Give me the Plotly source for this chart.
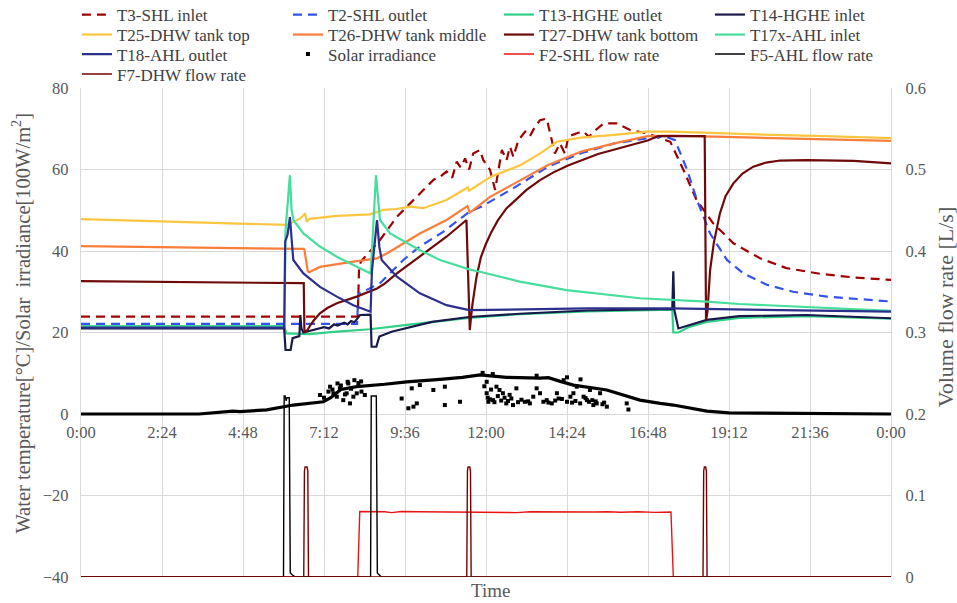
import plotly.graph_objects as go

# ---------------- data (time in hours) ----------------
t3_t = [0, 8.2, 8.24, 8.3, 8.86, 9.36, 9.85, 10.24, 10.45, 10.64, 10.83, 11.0, 11.13, 11.25, 11.38, 11.5, 11.62,
        11.82, 11.92, 12.12, 12.27, 12.37, 12.47, 12.61, 12.71, 12.81, 12.96, 13.16, 13.3, 13.45, 13.6, 13.8,
        13.94, 14.04, 14.19, 14.34, 14.44, 14.69, 14.89, 15.05, 15.19, 15.49, 15.88, 16.27, 16.76, 17.35,
        17.46, 17.85, 18.24, 18.73, 19.33, 20.12, 20.9, 21.9, 22.9, 24]
t3_v = [23.9, 23.9, 36.1, 37.5, 42.7, 48.4, 52.5, 55.8, 57.5, 58.2, 59.5, 58.0, 61.9, 60.5, 62.7, 60.0, 63.9,
        64.8, 62.3, 59.9, 55.0, 59.9, 64.8, 62.3, 65.6, 63.1, 67.2, 69.3, 68.1, 70.5, 72.1, 72.5,
        67.2, 63.9, 66.4, 63.9, 68.1, 68.9, 69.3, 68.0, 69.3, 71.3, 71.3, 69.7, 68.9, 67.2,
        66.8, 59.9, 52.5, 46.8, 41.9, 38.2, 35.8, 34.4, 33.5, 32.9]

t2_t = [0, 8.18, 8.22, 8.3, 8.86, 9.55, 10.04, 10.73, 11.5, 11.87, 12.85, 13.84, 14.82, 15.8, 16.79, 17.3,
        17.6, 17.96, 18.25, 18.64, 19.14, 19.63, 20.32, 21.1, 22.1, 23.3, 24]
t2_v = [22.1, 22.1, 29.6, 29.8, 32.1, 37.8, 41.1, 44.7, 49.6, 50.9, 55.6, 60.7, 64.0, 66.4, 67.7, 68.1,
        67.2, 59.9, 52.5, 44.3, 37.8, 34.5, 31.7, 30.0, 28.8, 28.1, 27.6]

t13_t = [0, 6.02, 6.08, 6.78, 7.58, 8.56, 9.6, 10.4, 11.5, 13, 15, 17.52, 17.55, 17.7, 18.0, 18.54, 19.5, 21.5, 24]
t13_v = [21.6, 21.6, 19.8, 19.6, 20.2, 20.8, 21.8, 22.6, 23.6, 24.5, 25.2, 25.6, 20.0, 20.0, 21.3, 22.6, 23.6, 24.0, 23.4]

t14_t = [0, 6.02, 6.06, 6.21, 6.27, 6.47, 6.5, 6.53, 6.59, 6.88, 7.0, 7.2, 7.35, 7.5, 7.6, 7.8, 7.9, 8.0,
         8.1, 8.2, 8.27, 8.58, 8.61, 8.75, 8.84, 9.2, 9.8, 10.4, 11.5, 13, 15, 17.52, 17.55, 17.58, 17.7,
         18.0, 18.54, 19.5, 21.5, 24]
t14_v = [21.0, 21.0, 15.7, 15.7, 18.6, 19.1, 24.3, 21.0, 20.0, 20.6, 21.0, 21.3, 21.0, 22.0, 21.7, 22.4, 22.0, 22.8,
         22.5, 23.5, 24.3, 24.4, 16.5, 16.5, 19.0, 20.2, 21.4, 22.6, 23.8, 24.6, 25.4, 25.8, 35.0, 25.5, 21.0,
         21.8, 23.1, 24.0, 24.3, 23.5]

t25_t = [0, 6.1, 6.5, 6.64, 6.69, 6.78, 7.58, 8.56, 8.96, 9.34, 9.75, 10.14, 10.83, 11.42, 11.46, 11.5,
         12.14, 13.03, 13.62, 14.1, 14.8, 15.8, 16.79, 17.5, 18.5, 20, 22, 24]
t25_v = [47.8, 46.4, 48.0, 49.2, 47.2, 47.9, 48.6, 49.0, 50.1, 50.3, 50.9, 50.5, 52.5, 55.4, 55.6, 54.8,
         58.2, 61.1, 64.0, 66.8, 67.8, 68.5, 69.3, 69.3, 69.0, 68.6, 68.2, 67.7]

t26_t = [0, 6.6, 6.62, 6.72, 6.76, 7.08, 8.07, 8.77, 9.06, 10.04, 10.83, 11.45, 11.52, 12.12, 12.85, 13.84,
         14.82, 15.8, 16.79, 17.5, 20, 24]
t26_v = [41.2, 40.5, 40.3, 35.0, 34.8, 36.1, 37.4, 38.2, 39.4, 44.3, 47.6, 51.0, 49.4, 53.3, 56.6, 61.1,
         64.4, 66.4, 68.2, 68.3, 67.8, 67.0]

t27_t = [0, 6.6, 6.62, 6.7, 6.78, 6.9, 7.08, 7.3, 7.58, 8.17, 8.77, 9.0, 9.36, 10.04, 10.83, 11.42, 11.52,
         11.56, 11.6, 11.72, 11.85, 12.0, 12.15, 12.35, 12.61, 12.85, 13.2, 13.6, 14.0, 14.43, 15.32, 16.3,
         16.79, 17.1, 18.48, 18.52, 18.56, 18.6, 18.64, 18.75, 18.93, 19.1, 19.33, 19.6, 19.92, 20.3,
         20.71, 21.5, 22.9, 24]
t27_v = [32.6, 32.1, 20.0, 20.5, 21.6, 23.0, 24.7, 26.0, 27.2, 28.8, 30.8, 32.0, 34.5, 38.6, 43.5, 47.6, 20.6,
         24.0, 27.0, 33.7, 38.5, 41.8, 44.5, 47.5, 50.5, 52.3, 55.0, 57.4, 59.3, 61.0, 63.8, 66.0,
         67.1, 68.2, 68.2, 23.0, 25.0, 30.0, 35.3, 42.0, 49.2, 53.5, 56.6, 59.0, 60.7, 61.7,
         62.2, 62.3, 62.1, 61.5]

t17_t = [0, 6.03, 6.06, 6.12, 6.19, 6.24, 6.3, 6.59, 7.08, 7.58, 8.17, 8.58, 8.62, 8.74, 8.86, 9.16, 10.04,
         10.64, 11.5, 11.82, 13.0, 14.39, 16.56, 18.54, 19.5, 22, 24]
t17_v = [21.5, 21.5, 45.0, 52.0, 58.6, 50.0, 47.5, 44.3, 41.1, 38.6, 36.1, 34.5, 40.0, 58.6, 47.6, 44.3, 40.2,
         37.8, 35.5, 34.9, 32.5, 30.4, 28.4, 27.6, 27.0, 26.0, 25.3]

t18_t = [0, 6.02, 6.05, 6.12, 6.19, 6.24, 6.29, 6.59, 7.08, 7.58, 8.07, 8.58, 8.62, 8.77, 8.84, 8.91, 9.36,
         10.04, 10.83, 11.5, 13, 15, 17.5, 20, 22, 24]
t18_v = [21.2, 21.2, 42.3, 44.0, 48.3, 42.0, 37.8, 34.5, 31.2, 28.8, 26.7, 25.1, 35.0, 47.6, 41.0, 37.8, 33.7,
         29.6, 26.7, 25.5, 25.7, 25.9, 25.9, 25.6, 25.4, 25.1]

# solar irradiance [100 W/m2]: dense trend band + scattered readings
sol_trend_t = [0, 3.5, 4.5, 4.71, 5.5, 6.29, 7.18, 7.4, 7.7, 8.17, 9.0, 9.65, 10.64, 11.3, 11.82, 12.61,
               13.6, 13.85, 14.2, 14.59, 15.58, 16.56, 17.16, 17.55, 18.54, 19.2, 24]
sol_trend_v = [0, 0, 0.7, 0.6, 1.0, 2.2, 3.0, 4.0, 6.0, 6.7, 7.3, 7.9, 8.5, 9.0, 9.6, 9.0,
               8.8, 8.9, 8.0, 7.1, 5.9, 3.4, 2.6, 2.2, 0.7, 0.3, 0]
sol_pts_t = [7.08, 7.33, 7.38, 7.48, 7.58, 7.67, 7.77, 7.87, 7.92, 7.97, 8.07, 8.17, 8.31, 8.41, 7.6, 7.9,
             8.1, 8.3, 7.2, 7.45, 7.7, 7.82, 8.0, 8.22, 9.5, 9.7, 9.85, 9.95, 9.8, 10.04, 10.44, 10.78,
             10.78, 11.23, 11.9, 12.02, 12.02, 12.07, 12.2, 12.21, 12.31, 12.4, 12.5, 12.6, 12.7, 12.8,
             12.9, 13.15, 13.3, 13.4, 13.5, 13.5, 13.6, 13.8, 13.95, 14.1, 14.15, 14.3, 14.4, 14.4, 14.5,
             14.59, 14.69, 14.79, 14.8, 14.89, 14.99, 15.08, 15.18, 15.28, 15.38, 15.58, 16.17, 16.22,
             12.05, 12.12, 12.25, 12.35, 12.45, 12.55, 12.65, 12.75, 12.95, 13.05, 13.25, 13.7, 13.85,
             14.05, 14.25, 14.55, 14.65, 14.95, 15.05, 15.15, 15.25, 15.45, 15.5, 11.95, 12.15]
sol_pts_v = [4.66, 5.5, 6.7, 5.07, 4.25, 6.3, 3.4, 5.07, 7.5, 2.6, 4.25, 5.07, 5.5, 4.66, 7.5, 7.9,
             8.3, 8.0, 4.0, 6.0, 7.0, 4.8, 6.2, 7.6, 3.8, 1.4, 1.8, 2.6, 6.3, 7.1, 5.9, 6.7,
             2.2, 3.0, 10.1, 7.9, 5.1, 3.0, 9.8, 3.4, 6.7, 5.9, 5.1, 2.6, 4.7, 2.2,
             6.3, 3.0, 2.6, 4.25, 6.3, 9.4, 5.1, 3.4, 2.6, 5.1, 3.8, 8.3, 3.0, 9.0, 4.25,
             5.1, 6.7, 2.6, 8.5, 4.25, 3.4, 5.9, 2.2, 2.6, 5.1, 1.8, 2.6, 1.1,
             4.0, 3.6, 2.9, 4.4, 3.3, 4.0, 3.2, 3.8, 2.9, 3.5, 3.1, 3.0, 2.8,
             3.3, 3.7, 2.8, 3.2, 3.9, 3.0, 3.4, 3.1, 2.4, 2.8, 6.8, 6.0]

# flow rates [L/s]
f2_t = [0, 8.2, 8.26, 8.3, 8.6, 9.0, 9.2, 9.5, 10.0, 10.5, 11.0, 11.5, 12.0, 12.5, 12.9, 13.3, 13.8,
        14.3, 14.8, 15.2, 15.6, 16.0, 16.5, 17.0, 17.48, 17.55, 24]
f2_v = [0, 0, 0.0803, 0.0803, 0.0795, 0.0800, 0.0790, 0.0803, 0.0800, 0.0798, 0.0800, 0.0796, 0.0800,
        0.0797, 0.0790, 0.0800, 0.0797, 0.0801, 0.0792, 0.0797, 0.0800, 0.0794, 0.0800, 0.0793, 0.0798, 0, 0]
f5_t = [0, 6.0, 6.02, 6.05, 6.08, 6.1, 6.17, 6.2, 6.25, 6.35, 8.58, 8.6, 8.63, 8.75, 8.78, 8.82, 8.9, 24]
f5_v = [0, 0, 0.222, 0.222, 0.216, 0.220, 0.220, 0.005, 0.003, 0, 0, 0.222, 0.222, 0.222, 0.005, 0.003, 0, 0]
f7_t = [0, 6.6, 6.62, 6.64, 6.7, 6.72, 6.74, 11.43, 11.45, 11.47, 11.52, 11.54, 11.56,
        18.43, 18.45, 18.47, 18.51, 18.53, 18.55, 24]
f7_v = [0, 0, 0.13, 0.135, 0.135, 0.13, 0, 0, 0.13, 0.135, 0.135, 0.13, 0,
        0, 0.13, 0.135, 0.135, 0.13, 0, 0]

tick_vals = [0, 2.4, 4.8, 7.2, 9.6, 12, 14.4, 16.8, 19.2, 21.6, 24]
tick_text = ["0:00", "2:24", "4:48", "7:12", "9:36", "12:00", "14:24", "16:48", "19:12", "21:36", "0:00"]

# ---------------- figure ----------------
FONT = "Liberation Serif, Times New Roman, serif"
GRAY = "#595959"
GRID = "#d9d9d9"

fig = go.Figure()

# dense irradiance band (part of the Solar irradiance series)
fig.add_trace(go.Scatter(x=sol_trend_t, y=sol_trend_v, mode="lines", line=dict(color="black", width=3.2),
                         showlegend=False, hoverinfo="skip"))

def temp(x, y, name, color, leg, dash="solid", width=2.2):
    fig.add_trace(go.Scatter(x=x, y=y, name=name, mode="lines", legend=leg,
                             line=dict(color=color, width=width, dash=dash)))

def flow(x, y, name, color, leg):
    fig.add_trace(go.Scatter(x=x, y=y, name=name, mode="lines", yaxis="y2", legend=leg,
                             line=dict(color=color, width=1.4)))

temp(t3_t, t3_v, "T3-SHL inlet", "#a00000", "legend", dash="9px,6px")
temp(t2_t, t2_v, "T2-SHL outlet", "#3352f0", "legend", dash="9px,6px")
temp(t13_t, t13_v, "T13-HGHE outlet", "#2fd088", "legend")
temp(t14_t, t14_v, "T14-HGHE inlet", "#1a1a4a", "legend")
temp(t25_t, t25_v, "T25-DHW tank top", "#fbc63f", "legend2")
temp(t26_t, t26_v, "T26-DHW tank middle", "#fa7d3a", "legend2")
temp(t27_t, t27_v, "T27-DHW tank bottom", "#6e0a0a", "legend2")
temp(t17_t, t17_v, "T17x-AHL inlet", "#45de9c", "legend2")
temp(t18_t, t18_v, "T18-AHL outlet", "#2c2f8c", "legend3")
fig.add_trace(go.Scatter(x=sol_pts_t, y=sol_pts_v, name="Solar irradiance", mode="markers", legend="legend3",
                         marker=dict(color="black", size=4, symbol="square")))
flow(f2_t, f2_v, "F2-SHL flow rate", "#e81414", "legend3")
flow(f5_t, f5_v, "F5-AHL flow rate", "#000000", "legend3")
flow(f7_t, f7_v, "F7-DHW flow rate", "#7a0000", "legend4")

PLOT_TOP, PLOT_BOT = 88, 577
row_y = [15, 35, 54.5, 74.5]

def leg(i):
    return dict(orientation="h", x=-0.005, xanchor="left", y=(PLOT_BOT - row_y[i]) / (PLOT_BOT - PLOT_TOP),
                yanchor="middle", entrywidth=166, entrywidthmode="pixels",
                font=dict(family=FONT, size=17, color="#404040"),
                bgcolor="rgba(0,0,0,0)", traceorder="normal", itemwidth=30)

fig.update_layout(
    width=957, height=603,
    margin=dict(l=81, r=66, t=88, b=26, autoexpand=False),
    plot_bgcolor="white", paper_bgcolor="white",
    font=dict(family=FONT, size=16, color=GRAY),
    showlegend=True,
    legend=leg(0), legend2=leg(1), legend3=leg(2), legend4=leg(3),
    xaxis=dict(range=[0, 24], tickvals=tick_vals, ticktext=tick_text, showgrid=True, gridcolor=GRID,
               gridwidth=1.3, zeroline=False, showline=False, ticks="", anchor="free", position=1/3,
               tickfont=dict(family=FONT, size=16.5, color=GRAY), ticklabelstandoff=6, automargin=False),
    yaxis=dict(range=[-40, 80], dtick=20, showgrid=True, gridcolor=GRID, gridwidth=1.3, zeroline=False,
               showline=True, linecolor=GRID, linewidth=1.3, ticks="", automargin=False,
               tickfont=dict(family=FONT, size=16.5, color=GRAY), ticklabelstandoff=8),
    yaxis2=dict(range=[0, 0.6], dtick=0.1, overlaying="y", side="right", showgrid=False, zeroline=False,
                showline=True, linecolor=GRID, linewidth=1.3, ticks="", automargin=False,
                tickfont=dict(family=FONT, size=16.5, color=GRAY), ticklabelstandoff=10),
    annotations=[
        dict(text="Water temperature[°C]/Solar  irradiance[100W/m<sup>2</sup>]", xref="paper", yref="paper",
             x=-0.073, y=0.52, xanchor="center", yanchor="middle", textangle=-90, showarrow=False,
             font=dict(family=FONT, size=20.5, color=GRAY)),
        dict(text="Volume flow rate [L/s]", xref="paper", yref="paper",
             x=1.067, y=0.552, xanchor="center", yanchor="middle", textangle=-90, showarrow=False,
             font=dict(family=FONT, size=22, color=GRAY)),
        dict(text="Time", xref="paper", yref="paper", x=0.505, y=-0.027, xanchor="center", yanchor="middle",
             showarrow=False, font=dict(family=FONT, size=19, color=GRAY)),
    ],
)

fig.write_html("out.html")
